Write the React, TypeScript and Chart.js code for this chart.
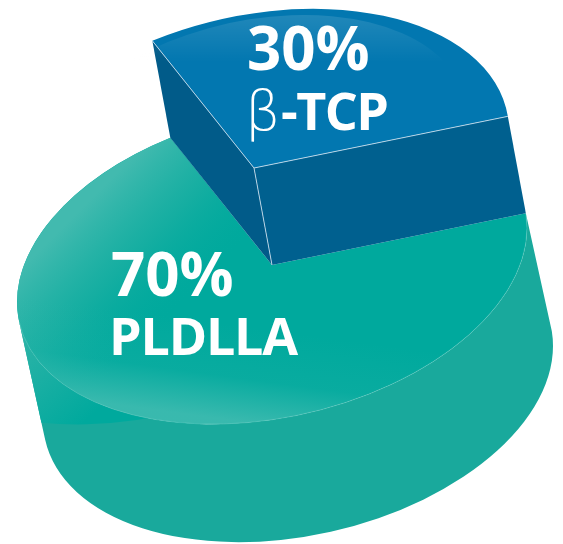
import React, { useEffect, useRef } from "react";
import { Chart, registerables } from "chart.js";

Chart.register(...registerables);

const materials = ["β-TCP", "PLDLLA"];
const shares = [30, 70];

const BLUE_TOP = "#0277b0";
const BLUE_WALL_LEFT = "#015b89";
const BLUE_WALL_RIGHT = "#00608f";
const TEAL_TOP = "#00a99d";
const TEAL_WALL = "#19a99c";

// tilt of the pie plane (screen = [[1,0],[SKEW,SQUASH]] * plane)
const SKEW = -0.145;
const SQUASH = 0.607;
const BASE_DEPTH = { x: 26, y: 118 };
const LIFT = { x: 18, y: 97 };

function tilt(ctx: CanvasRenderingContext2D, cx: number, cy: number) {
  ctx.translate(cx, cy);
  ctx.transform(1, SKEW, 0, SQUASH, 0, 0);
  ctx.translate(-cx, -cy);
}
const toPlane = (v: { x: number; y: number }) => ({ x: v.x, y: (v.y - SKEW * v.x) / SQUASH });

const pie3d = {
  id: "pie3d",
  beforeDatasetsDraw(chart: any) {
    const ctx: CanvasRenderingContext2D = chart.ctx;
    const [blue, teal] = chart.getDatasetMeta(0).data as any[];
    const cx: number = teal.x;
    const cy: number = teal.y;
    const R: number = teal.outerRadius;

    // ---- teal outer wall
    const dp = toPlane(BASE_DEPTH);
    const axis = Math.atan2(dp.y, dp.x);
    const a0 = Math.max(teal.startAngle, axis - Math.PI / 2);
    const a1 = Math.min(teal.endAngle, axis + Math.PI / 2);
    ctx.save();
    tilt(ctx, cx, cy);
    ctx.beginPath();
    ctx.arc(cx, cy, R, a0, a1);
    ctx.arc(cx + dp.x, cy + dp.y, R, a1, a0, true);
    ctx.closePath();
    ctx.fillStyle = TEAL_WALL;
    ctx.fill();
    ctx.clip();
    // swoop of brighter colour on the left of the wall
    ctx.beginPath();
    ctx.arc(cx - 0.53 * R, cy - 0.125 * R, R, 0, Math.PI * 2);
    ctx.setTransform(1, 0, 0, 1, 0, 0);
    const sw = ctx.createLinearGradient(cx - 0.98 * R, cy + 0.3 * R, cx - 0.72 * R, cy + 0.6 * R);
    sw.addColorStop(0, "#2bb3a7");
    sw.addColorStop(1, "#00a99d");
    ctx.fillStyle = sw;
    ctx.fill();
    ctx.restore();

    // ---- teal top
    ctx.save();
    tilt(ctx, cx, cy);
    teal.draw(ctx);
    ctx.beginPath();
    ctx.moveTo(cx, cy);
    ctx.arc(cx, cy, R, teal.startAngle, teal.endAngle);
    ctx.closePath();
    ctx.restore();
    // shading of the teal top, in page space
    const upper = ctx.createLinearGradient(cx - 0.76 * R, cy - 0.21 * R, cx - 0.37 * R, cy + 0.18 * R);
    upper.addColorStop(0, "rgba(66,186,175,1)");
    upper.addColorStop(0.5, "rgba(30,176,163,0.7)");
    upper.addColorStop(1, "rgba(0,169,157,0)");
    ctx.fillStyle = upper;
    ctx.fill();
    const lower = ctx.createLinearGradient(cx + 0.05 * R, cy + 0.26 * R, cx, cy + 0.63 * R);
    lower.addColorStop(0, "rgba(60,186,175,0)");
    lower.addColorStop(0.55, "rgba(60,186,175,0.15)");
    lower.addColorStop(1, "rgba(60,186,175,0.95)");
    ctx.fillStyle = lower;
    ctx.fill();

    ctx.save();
    tilt(ctx, cx, cy);
    ctx.beginPath();
    ctx.arc(cx, cy, R, a0, a1);
    ctx.restore();
    ctx.strokeStyle = "rgba(190,235,228,0.3)";
    ctx.lineWidth = 0.7;
    ctx.stroke();

    // ---- blue block, raised above the teal plane
    const lp = toPlane(LIFT);
    const bx = cx - lp.x;
    const by = cy - lp.y;
    const bs = blue.startAngle;
    const be = blue.endAngle;
    const quad = (ang: number, color: string) => {
      ctx.save();
      tilt(ctx, cx, cy);
      const px = bx + R * Math.cos(ang);
      const py = by + R * Math.sin(ang);
      ctx.beginPath();
      ctx.moveTo(bx, by);
      ctx.lineTo(px, py);
      ctx.lineTo(px + lp.x, py + lp.y);
      ctx.lineTo(bx + lp.x, by + lp.y);
      ctx.closePath();
      ctx.fillStyle = color;
      ctx.fill();
      ctx.restore();
    };
    quad(be, BLUE_WALL_RIGHT);
    quad(bs, BLUE_WALL_LEFT);

    ctx.save();
    tilt(ctx, cx, cy);
    ctx.translate(-lp.x, -lp.y);
    blue.draw(ctx);
    ctx.restore();

    // sheen on the blue top
    ctx.save();
    tilt(ctx, cx, cy);
    ctx.beginPath();
    ctx.arc(bx, by - 0.125 * R, 0.84 * R, bs - 0.2, be + 0.2);
    ctx.closePath();
    ctx.restore();
    const sheen = ctx.createLinearGradient(0, 12, 0, 62);
    sheen.addColorStop(0, "rgba(255,255,255,0.13)");
    sheen.addColorStop(1, "rgba(255,255,255,0)");
    ctx.fillStyle = sheen;
    ctx.fill();

    // light edges of the block
    ctx.save();
    tilt(ctx, cx, cy);
    ctx.beginPath();
    ctx.moveTo(bx + R * Math.cos(bs), by + R * Math.sin(bs));
    ctx.lineTo(bx, by);
    ctx.lineTo(bx + R * Math.cos(be), by + R * Math.sin(be));
    ctx.moveTo(bx, by);
    ctx.lineTo(bx + lp.x, by + lp.y);
    ctx.restore();
    ctx.strokeStyle = "rgba(205,225,238,0.85)";
    ctx.lineWidth = 1;
    ctx.stroke();

    // ---- labels
    ctx.fillStyle = "#ffffff";
    ctx.textBaseline = "alphabetic";
    ctx.font = "700 60px 'Open Sans'";
    (ctx as any).letterSpacing = "0px";
    ctx.fillText(`${shares[0]}%`, 247, 70);
    ctx.fillText(`${shares[1]}%`, 111, 296);
    const first = materials[0];
    ctx.font = "300 56px 'DejaVu Sans'";
    ctx.fillText(first[0], 245, 130);
    ctx.font = "700 52px 'Open Sans'";
    (ctx as any).letterSpacing = "-1.6px";
    ctx.fillText(first.slice(1), 281, 130);
    (ctx as any).letterSpacing = "-1.2px";
    ctx.fillText(materials[1], 109, 355);
    (ctx as any).letterSpacing = "0px";

    return false;
  },
};

export default function App() {
  const ref = useRef<HTMLCanvasElement>(null);
  useEffect(() => {
    document.body.style.margin = "0";
    const chart = new Chart(ref.current as HTMLCanvasElement, {
      type: "pie",
      plugins: [pie3d],
      data: {
        labels: materials,
        datasets: [
          {
            data: shares,
            borderWidth: 0,
            clip: false,
            backgroundColor: [BLUE_TOP, TEAL_TOP],
          },
        ],
      },
      options: {
        responsive: false,
        animation: false,
        rotation: -23.5,
        layout: { padding: { left: 17, right: 36, top: 10, bottom: 24 } },
        plugins: { legend: { display: false }, tooltip: { enabled: false } },
      },
    } as any);
    return () => chart.destroy();
  }, []);
  return <canvas ref={ref} width={563} height={544} style={{ display: "block" }} />;
}
